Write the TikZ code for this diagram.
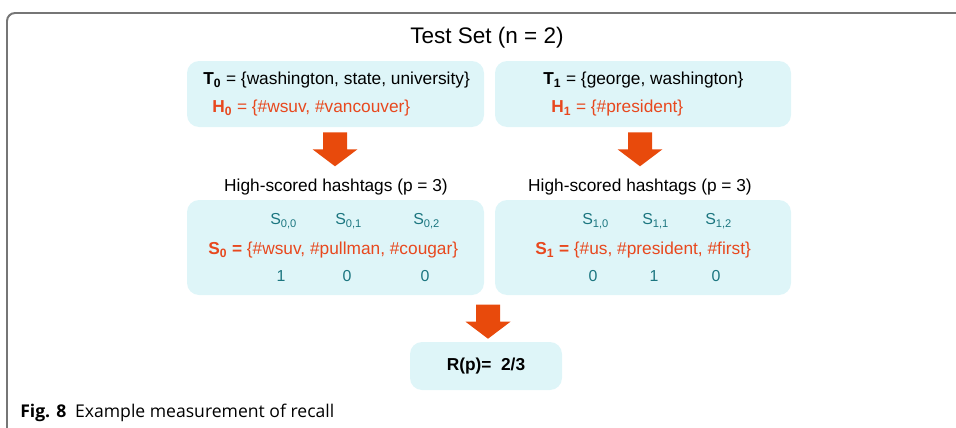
\documentclass[tikz,border=0pt]{standalone}
\usepackage{fontspec}
\setmainfont{Liberation Sans}
\newfontfamily\capfont{Open Sans}
\usetikzlibrary{positioning,fit,calc}

\definecolor{panelfill}{RGB}{222,245,248}
\definecolor{hashred}{RGB}{232,72,30}
\definecolor{arrowred}{RGB}{232,74,12}
\definecolor{scoreteal}{RGB}{28,118,128}
\definecolor{framegray}{RGB}{118,118,118}

\begin{document}
\begin{tikzpicture}[
  x=0.025cm, y=-0.025cm,
  txt/.style={font=\fontsize{12.3}{14}\selectfont, inner sep=0pt},
  hash/.style={txt, text=hashred},
  score/.style={font=\fontsize{11.3}{13}\selectfont, inner sep=0pt, text=scoreteal},
  panel/.style={fill=panelfill, rounded corners=0.3cm, inner sep=0pt},
  downarr/.pic={\fill[arrowred] (-12,0) -- (12,0) -- (12,17) -- (22.5,17)
                -- (0,34) -- (-22.5,17) -- (-12,17) -- cycle;},
]
\useasboundingbox (0,0) rectangle (956,428);
\draw[framegray, line width=1.4pt, rounded corners=0.2cm] (7,440) -- (7,13) -- (970,13);

\node[font=\fontsize{16}{19}\selectfont, inner sep=0pt] (title) at (487,38) {Test Set (n = 2)};

% test tweets
\node[panel, fit={(187,61) (484,127)}] (t0box) {};
\node[panel, fit={(495,61) (791,127)}] (t1box) {};
\node[txt, anchor=west] (t0) at (203,80) {\textbf{T\textsubscript{0}} = \{washington, state, university\}};
\node[hash, anchor=west] (h0) at (212,108) {\textbf{H\textsubscript{0}} = \{\#wsuv, \#vancouver\}};
\node[txt, anchor=west] (t1) at (543,80) {\textbf{T\textsubscript{1}} = \{george, washington\}};
\node[hash, anchor=west] (h1) at (551,108) {\textbf{H\textsubscript{1}} = \{\#president\}};

\pic at ($(t0box.south)+(-0.5,5)$) {downarr};
\pic at ($(t1box.south)+(-3,5)$) {downarr};

% high-scored hashtags
\node[txt] (hs0) at (336,187) {High-scored hashtags (p = 3)};
\node[txt] (hs1) at (640,187) {High-scored hashtags (p = 3)};
\node[panel, fit={(187,200) (484,295)}] (s0box) {};
\node[panel, fit={(495,200) (791,295)}] (s1box) {};

\node[score, anchor=west] (s00) at (270,221) {S\textsubscript{0,0}};
\node[score, anchor=west] (s01) at (335,221) {S\textsubscript{0,1}};
\node[score, anchor=west] (s02) at (413,221) {S\textsubscript{0,2}};
\node[hash, anchor=west] (s0) at (208,250) {\textbf{S\textsubscript{0} =} \{\#wsuv, \#pullman, \#cougar\}};
\node[score] (n00) at (281,276) {1};
\node[score] (n01) at (347,276) {0};
\node[score] (n02) at (425,276) {0};

\node[score, anchor=west] (s10) at (582,221) {S\textsubscript{1,0}};
\node[score, anchor=west] (s11) at (642,221) {S\textsubscript{1,1}};
\node[score, anchor=west] (s12) at (705,221) {S\textsubscript{1,2}};
\node[hash, anchor=west] (s1) at (535,250) {\textbf{S\textsubscript{1} =} \{\#us, \#president, \#first\}};
\node[score] (n10) at (593,276) {0};
\node[score] (n11) at (654,276) {1};
\node[score] (n12) at (716,276) {0};

% recall
\node[panel, fit={(410,342) (562,390)}] (rbox) {};
\pic at ($(rbox.north)+(2,-37)$) {downarr};
\node[txt] (rp) at (486,366) {\textbf{R(p)=\ \ 2/3}};

\node[anchor=west, inner sep=0pt, font=\capfont\fontsize{12.5}{14}\selectfont] (caption) at (20,413)
  {\textbf{Fig. 8}\hspace{0.5em}Example measurement of recall};
\end{tikzpicture}
\end{document}
